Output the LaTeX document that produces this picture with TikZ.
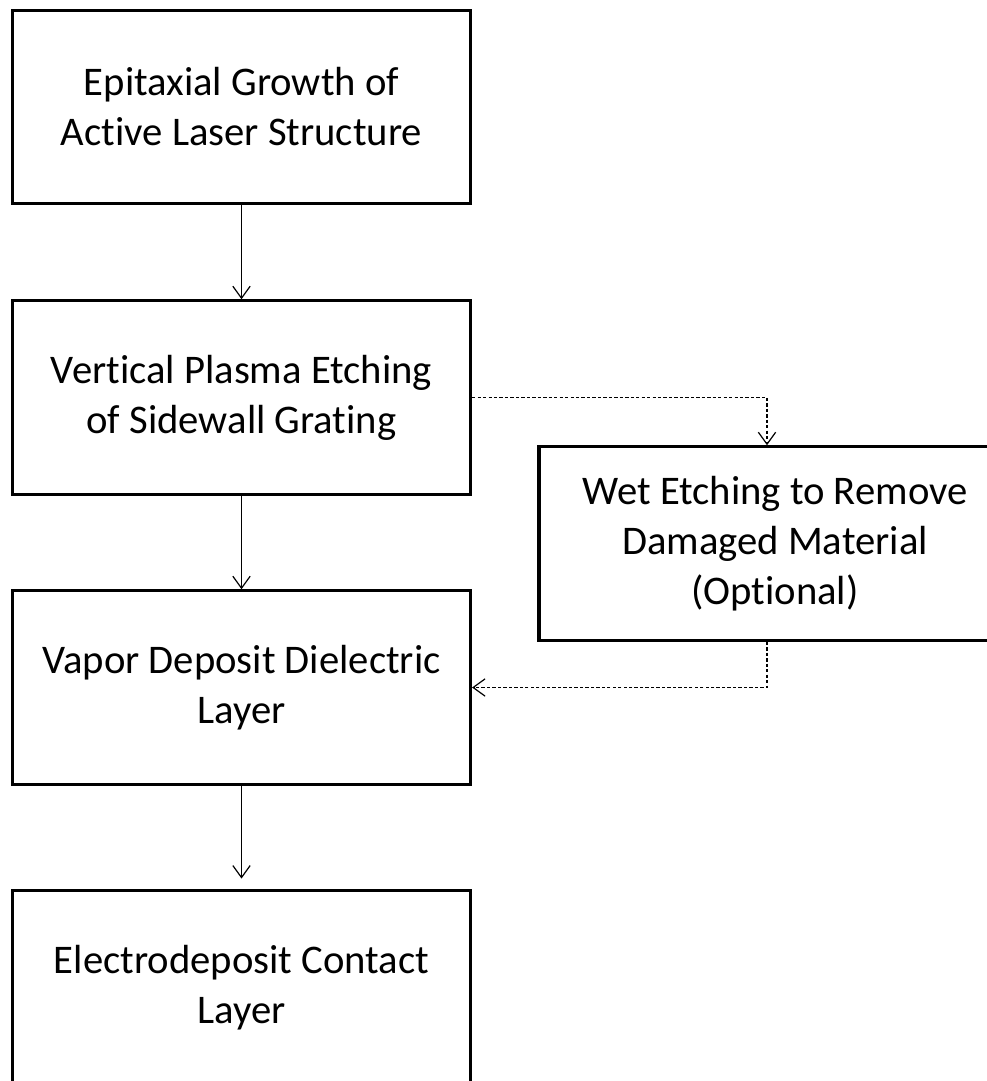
\documentclass[tikz,border=0pt]{standalone}
\usepackage{fontspec}
\setmainfont{Carlito}[Ligatures=NoCommon]
\usetikzlibrary{arrows.meta}

\tikzset{
	stepbox/.style={draw, line width=2.4pt, minimum width=343.5pt, minimum height=145pt,
		inner sep=0pt, align=center, font=\fontsize{30.5}{37.5}\selectfont},
	flow/.style={-{Straight Barb[length=9pt,width=13pt]}, line width=0.9pt},
	optflow/.style={flow, dash pattern=on 2.5pt off 1.6pt}
}

\begin{document}
\begin{tikzpicture}[x=0.75pt, y=-0.75pt]
	%Frame
	\useasboundingbox (0,0) rectangle (987,1081);
	\clip (0,0) rectangle (987,1081);
	%Steps
	\node [stepbox] (growth) at (241.5,107) {Epitaxial Growth of\\Active Laser Structure};
	\node [stepbox] (plasma) at (241.5,397.5) {Vertical Plasma Etching\\of Sidewall Grating};
	\node [stepbox] (vapor) at (241.5,687.5) {Vapor Deposit Dielectric\\Layer};
	\node [stepbox] (contact) at (241.5,987.5) {Electrodeposit Contact\\Layer};
	\node [stepbox, minimum width=354pt] (wet) at (775,543.5) {Wet Etching to Remove\\Damaged Material\\(Optional)};
	%Bends of the optional path
	\coordinate (split) at (767,397.5);
	\coordinate (merge) at (767,687.5);
	%Arrows
	\draw [flow] (growth) to (plasma);
	\draw [flow] (plasma) to (vapor);
	\draw [flow, shorten >=8pt] (vapor) to (contact);
	\draw [optflow] (plasma.east) to (split) to (split |- wet.north);
	\draw [optflow] (merge |- wet.south) to (merge) to (vapor.east);
\end{tikzpicture}
\end{document}
